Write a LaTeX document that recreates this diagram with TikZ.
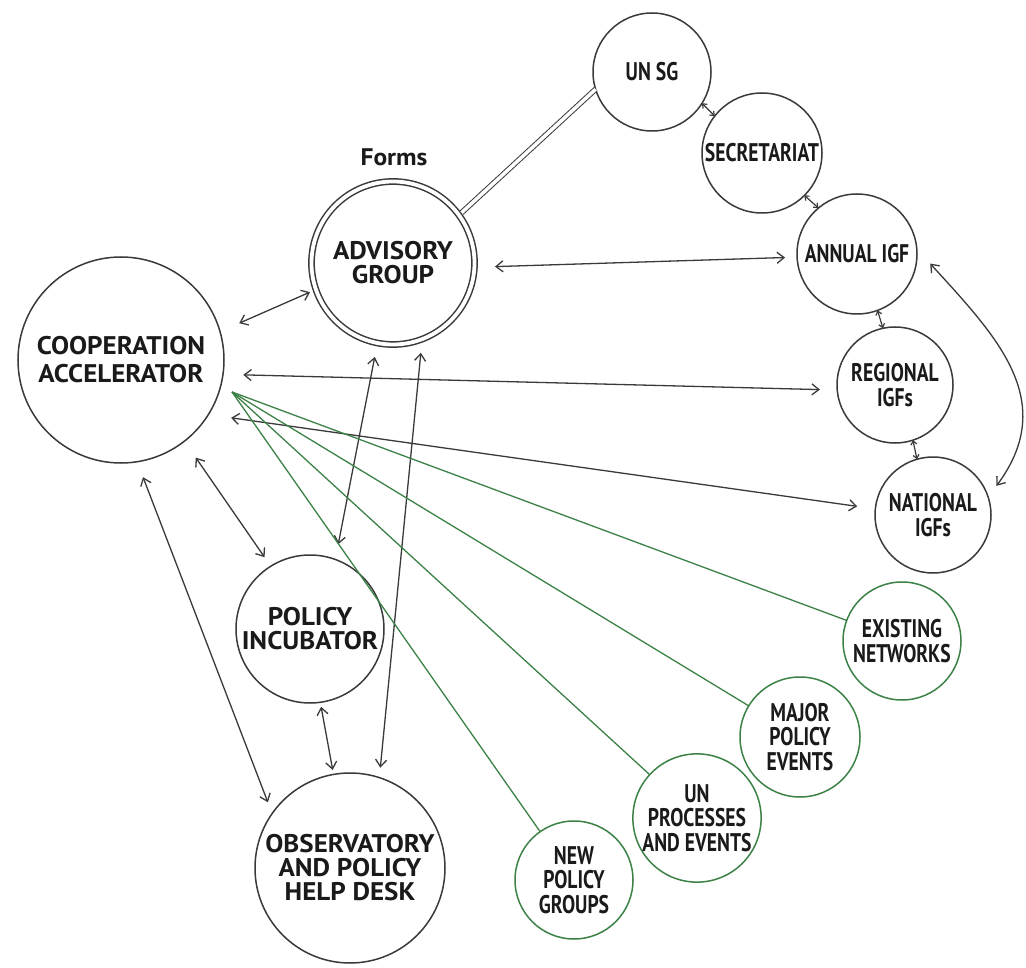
\documentclass[tikz,border=0pt]{standalone}
\usepackage{fontspec}
\setmainfont{PT Sans}
\newfontfamily\bigfont[FakeStretch=1.06]{PT Sans}
\newfontfamily\condfont[FakeStretch=0.77]{PT Sans}
\usetikzlibrary{arrows.meta}
\definecolor{ink}{HTML}{3A3A3A}
\definecolor{txt}{HTML}{1A1A1A}
\definecolor{grn}{HTML}{3C8246}
\begin{document}
\begin{tikzpicture}[x=1pt,y=-1pt,
  circ/.style={circle, draw=ink, line width=1.5pt, inner sep=0pt, outer sep=0pt, text=txt, align=center},
  bigtxt/.style={font=\bigfont\bfseries\fontsize{25.5}{24}\selectfont},
  condtxt/.style={font=\condfont\bfseries\fontsize{25.5}{24.5}\selectfont},
  gcirc/.style={circ, draw=grn},
  link/.style={draw=ink, line width=1.3pt, {Straight Barb[length=7pt,width=11pt]}-{Straight Barb[length=7pt,width=11pt]}},
  slink/.style={draw=ink, line width=1.2pt, {Straight Barb[length=3.5pt,width=6pt]}-{Straight Barb[length=3.5pt,width=6pt]}},
  glink/.style={draw=grn, line width=1.3pt},
]
\fill[white] (0,0) rectangle (1026,968);
\useasboundingbox (0,0) rectangle (1026,968);

% main nodes
\node[circ, bigtxt, minimum size=206] (ca) at (121,360) {COOPERATION\\[4pt]ACCELERATOR};
\node[circ, bigtxt, double, double distance=3.8pt, minimum size=163] (adv) at (393,263) {ADVISORY\\GROUP};
\node[text=txt, font=\bigfont\bfseries\fontsize{24}{24}\selectfont] (forms) at (394,157) {Forms};
\node[circ, bigtxt, minimum size=148] (pi) at (310,629) {POLICY\\INCUBATOR};
\node[circ, bigtxt, minimum size=190] (obs) at (350,868) {OBSERVATORY\\AND POLICY\\HELP DESK};

% IGF chain
\node[circ, condtxt, minimum size=118] (unsg) at (652,72) {UN SG};
\node[circ, condtxt, minimum size=120] (sec) at (762,153) {SECRETARIAT};
\node[circ, condtxt, minimum size=120] (annual) at (857,254) {ANNUAL IGF};
\node[circ, condtxt, minimum size=116] (reg) at (895,385) {REGIONAL\\IGFs};
\node[circ, condtxt, minimum size=116] (nat) at (933,515) {NATIONAL\\IGFs};

% green nodes
\node[gcirc, condtxt, minimum size=118] (en) at (902,641) {EXISTING\\NETWORKS};
\node[gcirc, condtxt, minimum size=120] (mpe) at (800,737) {MAJOR\\POLICY\\EVENTS};
\node[gcirc, condtxt, minimum size=118] (unp) at (697,818) {UN\\PROCESSES\\AND EVENTS};
\node[gcirc, condtxt, minimum size=118] (npg) at (574,880) {NEW\\POLICY\\GROUPS};

% double line UN SG -- advisory group
\draw[draw=ink, line width=1pt, double, double distance=3.5pt, shorten >=3.5pt] (unsg.197.5) -- (adv.36.5);

% short links in IGF chain
\draw[slink] (unsg.-32) -- (sec.142);
\draw[slink] (sec.-45.6) -- (annual.130);
\draw[slink] (annual.-70) -- (reg.102);
\draw[slink] (reg.-72) -- (nat.106);

% arc annual -- national
\draw[link, shorten <=20pt, shorten >=14pt] (annual.5) .. controls (995,335) and (1060,400) .. (nat.18);

% advisory links
\draw[link, shorten <=20.6pt, shorten >=12pt] (adv.-3) -- (annual.183);
\draw[link, shorten <=21pt, shorten >=6.5pt] (ca.16) -- (adv.199);
\draw[link, shorten <=14.2pt, shorten >=15.5pt] (adv.-101) -- (pi.70);
\draw[link, shorten <=13.8pt, shorten >=10pt] (adv.-69) -- (obs.72.3);

% cooperation accelerator links
\draw[link, shorten <=20.3pt, shorten >=17.3pt] (ca.-8.4) -- (reg.185.3);
\draw[link, shorten <=23pt, shorten >=18.3pt] (ca.-32) -- (nat.174.7);
\draw[link, shorten <=20pt, shorten >=11pt] (ca.-52) -- (pi.122);
\draw[link, shorten <=16.5pt, shorten >=12pt] (ca.-81) -- (obs.145.3);
\draw[link, shorten <=4.6pt, shorten >=4.6pt] (pi.-82.7) -- (obs.100.4);

% green links
\coordinate (hub) at (232,392);
\draw[glink] (hub) -- (en);
\draw[glink] (hub) -- (mpe);
\draw[glink] (hub) -- (unp);
\draw[glink] (hub) -- (npg);
\end{tikzpicture}
\end{document}
